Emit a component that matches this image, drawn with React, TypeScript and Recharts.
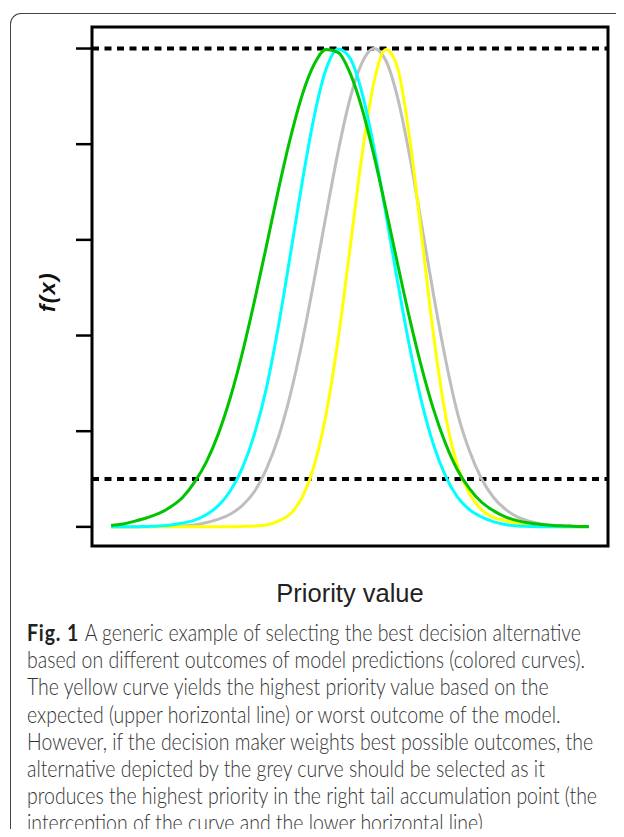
import { LineChart, Line, XAxis, YAxis, ReferenceLine, ReferenceArea } from "recharts";

// priority value (0..100), sampled every 2.5
const priority = [
  0, 2.5, 5, 7.5, 10, 12.5, 15, 17.5, 20, 22.5, 25, 27.5, 30, 32.5, 35, 37.5, 40, 42.5, 45, 47.5,
  50, 52.5, 55, 57.5, 60, 62.5, 65, 67.5, 70, 72.5, 75, 77.5, 80, 82.5, 85, 87.5, 90, 92.5, 95, 97.5, 100,
];

// f(x), each curve scaled to a peak of 1
const green = [
  0.003, 0.006, 0.012, 0.019, 0.028, 0.042, 0.062, 0.094, 0.137, 0.196, 0.272, 0.365, 0.472, 0.587,
  0.704, 0.812, 0.903, 0.967, 0.998, 0.992, 0.949, 0.875, 0.777, 0.665, 0.548, 0.435, 0.333, 0.245,
  0.174, 0.119, 0.08, 0.052, 0.034, 0.021, 0.013, 0.008, 0.005, 0.003, 0.002, 0.001, 0.001,
];
const cyan = [
  0, 0, 0, 0.001, 0.002, 0.004, 0.008, 0.014, 0.026, 0.045, 0.076, 0.124, 0.194, 0.29, 0.419, 0.568,
  0.721, 0.858, 0.957, 0.999, 0.98, 0.908, 0.794, 0.655, 0.51, 0.375, 0.261, 0.171, 0.106, 0.062,
  0.036, 0.021, 0.011, 0.005, 0.002, 0.001, 0, 0, 0, 0, 0,
];
const grey = [
  0, 0, 0, 0, 0.001, 0.001, 0.002, 0.004, 0.009, 0.016, 0.027, 0.045, 0.074, 0.121, 0.187, 0.276,
  0.387, 0.516, 0.652, 0.784, 0.895, 0.97, 1.0, 0.975, 0.896, 0.775, 0.631, 0.484, 0.35, 0.238,
  0.159, 0.101, 0.062, 0.037, 0.021, 0.012, 0.006, 0.003, 0.002, 0.001, 0,
];
const yellow = [
  0, 0, 0, 0, 0, 0, 0, 0, 0, 0, 0, 0.001, 0.002, 0.004, 0.012, 0.027, 0.062, 0.128, 0.236, 0.391,
  0.582, 0.776, 0.929, 0.998, 0.958, 0.811, 0.607, 0.4, 0.233, 0.128, 0.069, 0.036, 0.02, 0.013,
  0.007, 0.003, 0.002, 0.001, 0, 0, 0,
];

const yTicks = [0, 0.2, 0.4, 0.6, 0.8, 1.0];
const expected = 1.0;
const worst = 0.1;

const caption = [
  "A generic example of selecting the best decision alternative",
  "based on different outcomes of model predictions (colored curves).",
  "The yellow curve yields the highest priority value based on the",
  "expected (upper horizontal line) or worst outcome of the model.",
  "However, if the decision maker weights best possible outcomes, the",
  "alternative depicted by the grey curve should be selected as it",
  "produces the highest priority in the right tail accumulation point (the",
  "interception of the curve and the lower horizontal line)",
];

const data = priority.map((x, i) => ({
  x,
  green: green[i],
  cyan: cyan[i],
  grey: grey[i],
  yellow: yellow[i],
}));

const series = [
  { key: "grey", color: "#bebebe" },
  { key: "yellow", color: "#ffff00" },
  { key: "cyan", color: "#00ffff" },
  { key: "green", color: "#00c400" },
];

const X_DOMAIN: [number, number] = [-4, 104];
const Y_DOMAIN: [number, number] = [-0.04, 1.045];

export default function App() {
  return (
    <div
      style={{
        position: "relative",
        width: 624,
        height: 837,
        margin: -8,
        background: "#fff",
        overflow: "hidden",
      }}
    >
      <div
        style={{
          position: "absolute",
          left: 10,
          top: 13,
          width: 640,
          height: 840,
          borderTop: "1.5px solid #444",
          borderLeft: "1.5px solid #444",
          borderTopLeftRadius: 11,
        }}
      />
      <div style={{ position: "absolute", left: 0, top: 0 }}>
        <LineChart width={624} height={560} data={data} margin={{ top: 27, right: 16, bottom: 14, left: 91 }}>
          <XAxis type="number" dataKey="x" domain={X_DOMAIN} allowDataOverflow hide />
          <YAxis
            type="number"
            domain={Y_DOMAIN}
            allowDataOverflow
            ticks={yTicks}
            width={1}
            axisLine={false}
            tickSize={16}
            tickLine={{ stroke: "#000", strokeWidth: 2.5 }}
            tick={() => <g />}
          />
          <ReferenceLine y={expected} stroke="#000" strokeWidth={4} strokeDasharray="7 5.5" />
          <ReferenceLine y={worst} stroke="#000" strokeWidth={4} strokeDasharray="7 5.5" />
          {series.map((s) => (
            <Line
              key={s.key}
              dataKey={s.key}
              type="monotone"
              stroke={s.color}
              strokeWidth={3}
              dot={false}
              isAnimationActive={false}
            />
          ))}
          <ReferenceArea
            x1={X_DOMAIN[0]}
            x2={X_DOMAIN[1]}
            y1={Y_DOMAIN[0]}
            y2={Y_DOMAIN[1]}
            fill="none"
            stroke="#000"
            strokeWidth={3}
            ifOverflow="visible"
          />
        </LineChart>
      </div>
      <div
        style={{
          position: "absolute",
          left: 48,
          top: 292,
          transform: "translate(-50%, -50%) rotate(-90deg)",
          fontFamily: "'Liberation Sans', Arial, sans-serif",
          fontWeight: "bold",
          fontStyle: "italic",
          fontSize: 22,
          letterSpacing: 1.5,
          color: "#111",
          whiteSpace: "nowrap",
        }}
      >
        f(x)
      </div>
      <div
        style={{
          position: "absolute",
          left: 350,
          top: 593,
          transform: "translate(-50%, -50%)",
          fontFamily: "'Liberation Sans', Arial, sans-serif",
          fontSize: 25.5,
          color: "#222",
          whiteSpace: "nowrap",
        }}
      >
        Priority value
      </div>
      <div
        style={{
          position: "absolute",
          left: 27,
          top: 619,
          transform: "scaleX(0.865)",
          transformOrigin: "0 0",
          fontFamily: "Lato, 'Open Sans', sans-serif",
          fontWeight: 300,
          fontSize: 22.5,
          lineHeight: "27.2px",
          color: "#333",
          whiteSpace: "nowrap",
        }}
      >
        {caption.map((line, i) => (
          <div key={i}>
            {i === 0 && (
              <b style={{ fontWeight: 700, color: "#222", letterSpacing: 1 }}>Fig. 1 </b>
            )}
            {line}
          </div>
        ))}
      </div>
    </div>
  );
}
